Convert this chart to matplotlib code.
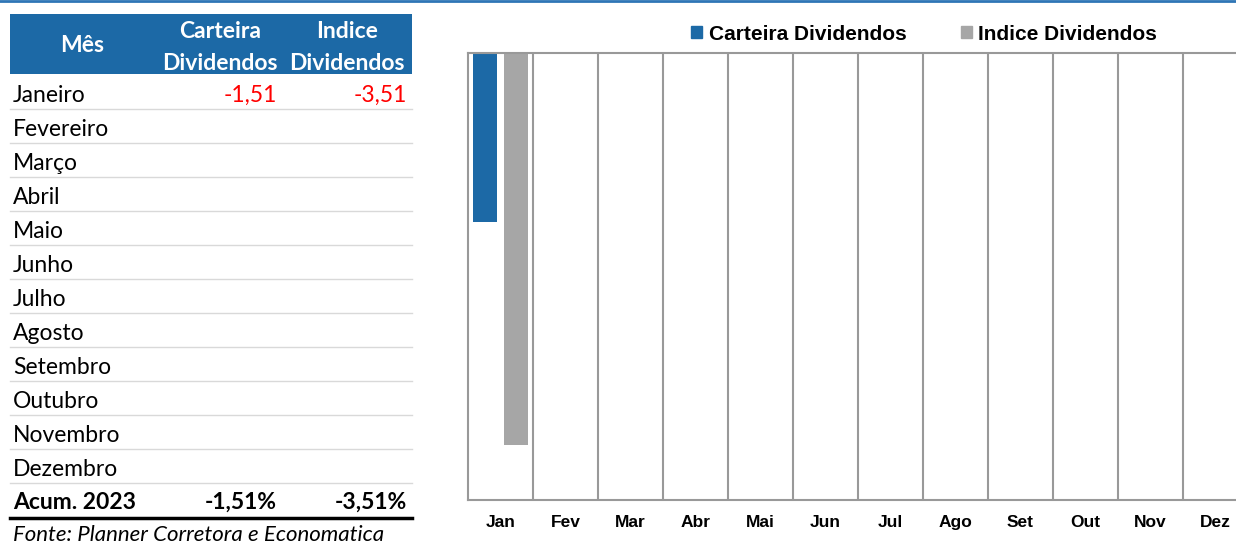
import numpy as np
import matplotlib
matplotlib.use("Agg")
import matplotlib.pyplot as plt
from matplotlib.patches import Rectangle, Patch

# data
meses = ['Janeiro', 'Fevereiro', 'Março', 'Abril', 'Maio', 'Junho', 'Julho',
         'Agosto', 'Setembro', 'Outubro', 'Novembro', 'Dezembro']
meses_abrev = ['Jan', 'Fev', 'Mar', 'Abr', 'Mai', 'Jun', 'Jul', 'Ago', 'Set',
               'Out', 'Nov', 'Dez']
carteira = [-1.51, np.nan, np.nan, np.nan, np.nan, np.nan, np.nan, np.nan,
            np.nan, np.nan, np.nan, np.nan]
indice = [-3.51, np.nan, np.nan, np.nan, np.nan, np.nan, np.nan, np.nan,
          np.nan, np.nan, np.nan, np.nan]
acum_label = 'Acum. 2023'
acum_carteira = '-1,51%'
acum_indice = '-3,51%'
fonte = 'Fonte: Planner Corretora e Economatica'

blue = '#1c69a6'
gray = '#a6a6a6'
W, H = 1236, 546

fig = plt.figure(figsize=(W / 100, H / 100), dpi=100)

# table drawn in pixel coords
tab = fig.add_axes([0, 0, 1, 1])
tab.set_xlim(0, W)
tab.set_ylim(H, 0)
tab.axis('off')

tab.plot([0, W], [1, 1], color='#2e75b6', lw=2)
tab.add_patch(Rectangle((10, 14), 402, 60, color=blue, lw=0))
tfont = ['Lato', 'DejaVu Sans']
hs = 16.5
tab.text(82, 46, 'Mês', color='white', fontsize=hs, fontweight='bold',
         ha='center', va='center', family=tfont)
tab.text(220, 32, 'Carteira', color='white', fontsize=hs, fontweight='bold',
         ha='center', va='center', family=tfont)
tab.text(220, 63, 'Dividendos', color='white', fontsize=hs, fontweight='bold',
         ha='center', va='center', family=tfont)
tab.text(347, 32, 'Indice', color='white', fontsize=hs, fontweight='bold',
         ha='center', va='center', family=tfont)
tab.text(347, 63, 'Dividendos', color='white', fontsize=hs, fontweight='bold',
         ha='center', va='center', family=tfont)

fs = 16.5
for i, m in enumerate(meses):
    y = 95.5 + 34 * i
    tab.text(13, y, m, fontsize=fs, ha='left', va='center', family=tfont)
    if not np.isnan(carteira[i]):
        tab.text(277, y, f'{carteira[i]:.2f}'.replace('.', ','), color='#ff0000',
                 fontsize=fs, ha='right', va='center', family=tfont)
    if not np.isnan(indice[i]):
        tab.text(407, y, f'{indice[i]:.2f}'.replace('.', ','), color='#ff0000',
                 fontsize=fs, ha='right', va='center', family=tfont)
    tab.plot([10, 412], [y + 13.5, y + 13.5], color='#d9d9d9', lw=1)

ya = 95.5 + 34 * 12 - 1
tab.text(13, ya, acum_label, fontsize=fs, fontweight='bold', ha='left', va='center', family=tfont)
tab.text(277, ya, acum_carteira, fontsize=fs, fontweight='bold', ha='right', va='center', family=tfont)
tab.text(407, ya, acum_indice, fontsize=fs, fontweight='bold', ha='right', va='center', family=tfont)
tab.plot([10, 412], [518, 518], color='black', lw=2.5)
tab.text(13, 535, fonte, fontsize=16, style='italic', ha='left', va='center', family=tfont)

# chart
x0, x1, y0, y1 = 468, 468 + 12 * 65, 53, 500
ax = fig.add_axes([x0 / W, (H - y1) / H, (x1 - x0) / W, (y1 - y0) / H])
x = np.arange(len(meses_abrev))
ax.bar(x - 0.245, carteira, width=0.37, color=blue)
ax.bar(x + 0.245, indice, width=0.37, color=gray)
ax.set_xlim(-0.5, 11.5)
ax.set_ylim(-4, 0)
for k in range(11):
    ax.axvline(k + 0.5, color='#999999', lw=1.5, zorder=0)
for s in ax.spines.values():
    s.set_color('#999999')
    s.set_linewidth(1.5)
ax.set_yticks([])
ax.set_xticks(x)
ax.set_xticklabels(meses_abrev, fontsize=12.5, fontweight='bold',
                   family=['Liberation Sans', 'DejaVu Sans'])
ax.tick_params(axis='x', length=0, pad=11)

handles = [Patch(color=blue, label='Carteira Dividendos'),
           Patch(color=gray, label='Indice Dividendos')]
fig.legend(handles=handles, loc='center', bbox_to_anchor=(924 / W, 1 - 34 / H),
           ncol=2, frameon=False, handlelength=0.55, handleheight=0.55,
           handletextpad=0.3, columnspacing=2.6,
           prop={'family': ['Liberation Sans', 'DejaVu Sans'], 'weight': 'bold', 'size': 15})

fig.savefig('out.png', dpi=100)
